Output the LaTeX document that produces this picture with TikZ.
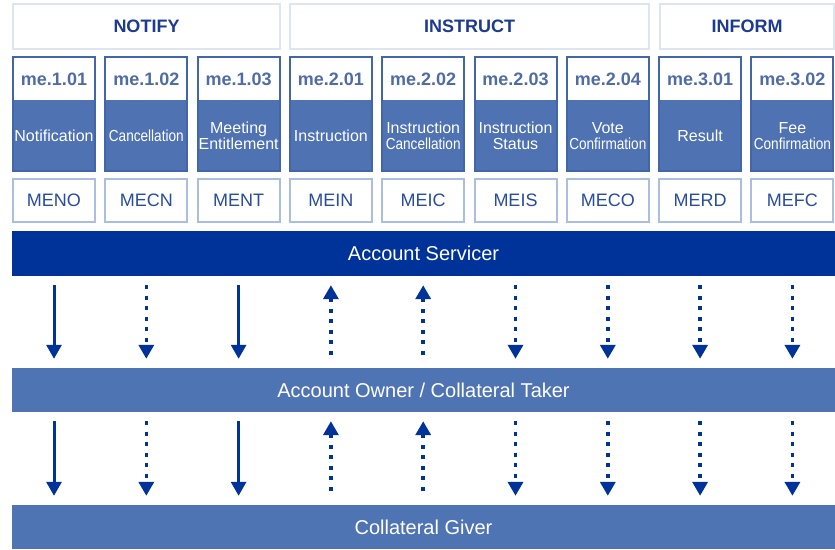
\documentclass[tikz,border=0pt]{standalone}
\usepackage{fontspec}
\setmainfont{Liberation Sans}
\usepackage{graphicx}
\usetikzlibrary{arrows.meta}

\definecolor{hdrtext}{RGB}{28,58,145}
\definecolor{hdrline}{RGB}{222,228,240}
\definecolor{idtext}{RGB}{80,108,165}
\definecolor{colblue}{RGB}{78,114,178}
\definecolor{colframe}{RGB}{66,102,170}
\definecolor{codeline}{RGB}{170,190,225}
\definecolor{codetext}{RGB}{40,76,158}
\definecolor{darkbar}{RGB}{0,51,153}
\definecolor{midbar}{RGB}{79,116,180}

\newcommand\squeeze[1]{\scalebox{0.85}[1]{#1}}

\tikzset{
  grpbox/.style={draw=hdrline, line width=2pt, fill=white, minimum height=45pt, inner sep=0pt,
    font=\fontsize{18}{20}\selectfont\bfseries, text=hdrtext},
  msgbox/.style={draw=colframe, line width=2pt, fill=colblue, minimum width=82pt, minimum height=114pt, inner sep=0pt},
  idbox/.style={fill=white, minimum width=80pt, minimum height=42pt, inner sep=0pt,
    font=\fontsize{18}{20}\selectfont\bfseries, text=idtext},
  lblbox/.style={align=center, text=white, inner sep=0pt, font=\fontsize{16}{16}\selectfont},
  codebox/.style={draw=codeline, line width=2pt, fill=white, minimum width=82pt, minimum height=43pt, inner sep=0pt,
    font=\fontsize{18}{20}\selectfont, text=codetext},
  partybar/.style={minimum width=823pt, minimum height=45pt, inner sep=0pt, text=white,
    font=\fontsize{20}{22}\selectfont},
  flow/.style={draw=darkbar, line width=3pt, shorten <=9pt, shorten >=9pt},
  fwd/.style={-{Triangle[width=15pt,length=14pt]}},
  bwd/.style={{Triangle[width=15pt,length=14pt]}-},
  dots/.style={line width=3.5pt, dash pattern=on 4pt off 6.5pt}
}

\begin{document}
\begin{tikzpicture}[x=1pt,y=-1pt]
  \useasboundingbox (0,0) rectangle (835,549);

  % function groups
  \node[grpbox, minimum width=267pt] (notify) at (146.5,26.5) {NOTIFY};
  \node[grpbox, minimum width=359pt] (instruct) at (469.5,26.5) {INSTRUCT};
  \node[grpbox, minimum width=174pt] (inform) at (747,26.5) {INFORM};

  % message columns
  \foreach \i/\id/\lbl/\code in {
      1/me.1.01/Notification/MENO,
      2/me.1.02/\squeeze{Cancellation}/MECN,
      3/me.1.03/{Meeting\\Entitlement}/MENT,
      4/me.2.01/Instruction/MEIN,
      5/me.2.02/{Instruction\\\squeeze{Cancellation}}/MEIC,
      6/me.2.03/{Instruction\\Status}/MEIS,
      7/me.2.04/{Vote\\\squeeze{Confirmation}}/MECO,
      8/me.3.01/Result/MERD,
      9/me.3.02/{Fee\\\squeeze{Confirmation}}/MEFC}
  {
    \pgfmathsetmacro\x{54+92.3*(\i-1)}
    \node[msgbox] (msg\i) at (\x,114) {};
    \node[idbox] (id\i) at (\x,79) {\id};
    \node[lblbox] (lbl\i) at (\x,136) {\lbl};
    \node[codebox] (code\i) at (\x,200.5) {\code};
  }

  % parties
  \node[partybar, fill=darkbar] (servicer) at (423.5,253.5) {Account Servicer};
  \node[partybar, fill=midbar, minimum height=44pt] (owner) at (423.5,390) {Account Owner / Collateral Taker};
  \node[partybar, fill=midbar, minimum height=44pt] (giver) at (423.5,527) {Collateral Giver};

  % message flows
  \foreach \i/\tip/\pat in {1/fwd/solid, 2/fwd/dots, 3/fwd/solid, 4/bwd/dots, 5/bwd/dots,
                            6/fwd/dots, 7/fwd/dots, 8/fwd/dots, 9/fwd/dots}
  {
    \draw[flow,\tip,\pat] (servicer.south -| code\i) -- (owner.north -| code\i);
    \draw[flow,\tip,\pat] (owner.south -| code\i) -- (giver.north -| code\i);
  }
\end{tikzpicture}
\end{document}
